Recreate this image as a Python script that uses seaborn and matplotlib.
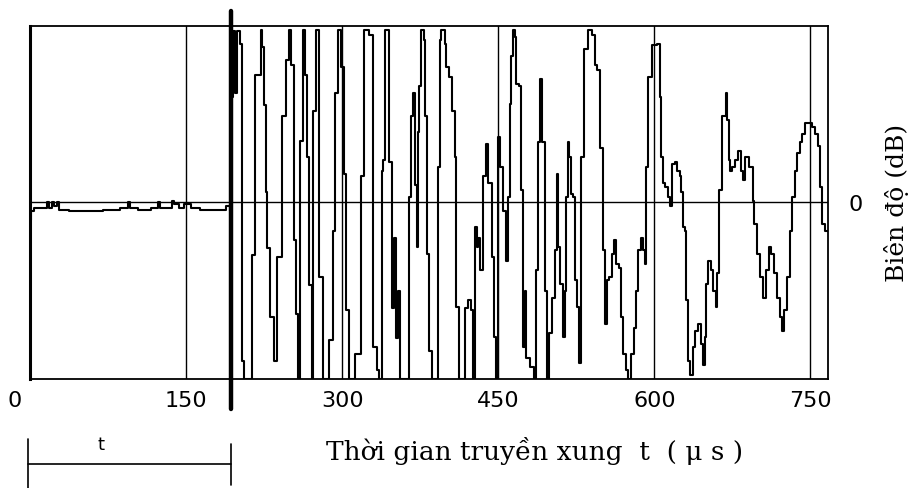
import numpy as np
import pandas as pd
import seaborn as sns
import matplotlib.pyplot as plt
import matplotlib.transforms as mtransforms

# -----------------------
# Data
# -----------------------
# noise before the echo, time in us, amplitude in % of full scale
noise_t = [0, 2, 5, 15, 18, 19, 21, 22, 24, 27, 29, 45, 60, 80, 93, 95, 97, 110,
           122, 124, 126, 135, 137, 139, 142, 145, 150, 153, 156, 170, 185, 192]
noise_amp = [-10, -5, -3, -3, 0, -3, -3, 0, -2, 0, -4, -5, -5, -4, -3, 0, -3, -4,
             -3, 0, -3, -3, 1, -1, -1, -3, -1, -1, -3, -4, -4, -2]

# echo train after the start pulse
echo_t = [193, 194, 195, 196, 198, 200, 201, 203, 205, 207, 211, 215, 217, 221, 222.7,
          223.5, 226, 227, 229, 233, 236, 239.4, 244, 247.4, 249.6,
          252.2, 254.7, 257, 258.6, 261.1, 263.4, 265, 266.6, 269.8, 271.4,
          273, 276.2, 279.4, 284.2, 290, 292.2, 294.4, 297, 300.8, 302.7, 305, 308.2,
          316.2, 319.4, 322.6, 328,
          332, 334, 337, 338.6, 340.2, 341.5, 344, 346.6, 349, 351, 353, 355, 357, 362,
          365.8, 367.4, 369, 371, 372.2, 373.5, 374.8, 377, 379.6, 380.2, 382.8, 385,
          387, 391, 393, 394.6, 396, 398, 399.4, 401, 404.2, 407.4, 409, 410.6, 413,
          417, 419, 422, 425, 426.6, 428.2, 430, 431.4, 434, 436.2, 439.4, 441, 443,
          444.2, 446.8, 449, 451.2, 453, 456, 458.6, 460.2, 461.8, 463.4, 465, 466.5,
          468.2, 471.4, 473, 475.2,
          476.2, 477.8, 482.6, 485.2, 487.4, 489, 490.6, 493.8, 495.4, 498, 500.2,
          503.4, 505.6, 506.6, 508.8, 510.8, 513, 514.6, 516.2, 517.2, 519.4, 521,
          523.6, 524.2, 526.8, 528, 530.6, 533.8, 538.6, 541.8, 543.4, 546.6, 549.8,
          551.4, 553.6, 554.6, 557.8, 560, 562.6, 564.2, 567.4, 569, 571.6, 573.8,
          576, 578.6, 581.8, 583.4, 585.6, 588.2, 589.8, 591.4, 593, 595.2, 601,
          604.2, 605.8, 607.4, 609, 612.2, 613.8, 616, 618.6,
          620.2, 623.4, 625, 626.6, 628.2, 629.8, 631.4, 633, 635.6, 637.8, 641,
          643.2, 645.8, 648.4, 649.6, 650.6, 652.8, 655.4, 658, 660.2, 661.2, 663.4,
          666.6, 668.2, 669.8, 670.8, 672, 674, 676.2, 679.4, 681.6, 684.2, 685.8,
          689, 693.8, 695.4, 697, 699.6, 702.8, 706, 708.2, 711.4, 713.6, 716.2,
          719.4, 722, 724.2, 725.8, 728.4, 731.6, 733.8, 736, 738.6, 741.2, 743.4,
          746.6, 749.8, 753, 756.2, 758.4, 760.4, 762.6, 765.8, 767]
echo_amp = [-5, 97, 60, 97, 62, 97, 97, 90, -90, -100, -100, -30, 72, 72, 98,
            88, 55, 6, -26, -65, -90, -31, 49, 81, 98,
            78, -21, -63, -100, 35, 98, 72, 26, -47, -100,
            52, 98, -42, -100, -78, -16, 62, 98, 77, 16, -61, -100,
            -86, 15, 98, 95,
            -82, -95, -100, 18, 24, 98, 98, 23, -60, -20, -77, -50, -100, -100,
            3, 49, 62, 10, -25, 40, 66, 98, 92, 49, -29, -84,
            -100, -100, 20, 92, 98, 98, 90, 77, 71, 52, 26, -59, -100,
            -100, -60, -55, -61, -100, -14, -25, -20, -38, 15, 33, 11, 11,
            -31, -76, -100, 37, 20, -5, -33, 3, 56, 83, 98, 94,
            67, 66, 7, -82,
            -50, -88, -93, -100, -38, 34, 70, 34, -50, -100, -74,
            -54, -27, 16, -25, -46, -76, -50, 3, 34, 26, 5,
            3, -44, -59, -91, 26, 87, 98, 95, 78, 75, 31,
            -27, -69, -44, -42, -29, -21, -35, -37, -65, -86, -95,
            -100, -86, -71, -50, -27, -20, -27, -35, 20, 71, 89,
            90, 60, 26, 11, 9, 3, -2, 22,
            23, 18, 15, 6, -14, -16, -55, -90, -98, -82, -73,
            -69, -80, -92, -76, -46, -33, -38, -50, -59, -40, 7,
            49, 49, 62, 47, 24, 18, 20, 24, 29, 18, 13,
            26, 20, 1, -12, -29, -42, -54, -38, -25, -29, -40,
            -54, -65, -73, -61, -42, -16, 3, 18, 28, 34, 39,
            45, 45, 43, 39, 32, 9, -12, -16, -16]

x_ticks = [0, 150, 300, 450, 600, 750]
pulse_t = 193  # start of the echo window (thick marker)

signal = pd.DataFrame({"t": noise_t + echo_t, "amp": noise_amp + echo_amp})

# -----------------------
# Setup
# -----------------------
sns.set_theme(style="white")
plt.rcParams["font.family"] = ["DejaVu Sans"]
plt.rcParams["text.color"] = "black"

fig = plt.figure(figsize=(9.13, 4.89), dpi=100)
ax = fig.add_axes([0.0329, 0.2229, 0.8741, 0.7219])

sns.lineplot(data=signal, x="t", y="amp", color="black", linewidth=1.5,
             sort=False, estimator=None, drawstyle="steps-mid", ax=ax)

ax.set_xlim(0, 767)
ax.set_ylim(-100, 100)

# grid lines at the tick positions and zero line
for xv in x_ticks[1:]:
    ax.axvline(xv, color="black", linewidth=1.0, zorder=1)
ax.axhline(0, color="black", linewidth=1.0, zorder=1)

# thick start marker, runs past the frame
ax.axvline(pulse_t, ymin=-0.085, ymax=1.042, color="black", linewidth=3.2,
           clip_on=False, zorder=5)

for side in ["top", "bottom", "left", "right"]:
    ax.spines[side].set_color("black")
    ax.spines[side].set_linewidth(1.3)
ax.spines["left"].set_linewidth(2.2)

ax.set_xticks(x_ticks)
ax.set_xticklabels([str(v) for v in x_ticks])
ax.tick_params(axis="x", length=0, pad=8, labelsize=16, colors="black")
# the "0" label sits a bit left of the origin
shift = mtransforms.ScaledTranslation(-15 / 100, 0, fig.dpi_scale_trans)
ax.get_xticklabels()[0].set_transform(ax.get_xticklabels()[0].get_transform() + shift)

ax.yaxis.tick_right()
ax.set_yticks([0])
ax.set_yticklabels(["0"])
ax.tick_params(axis="y", length=0, pad=15, labelsize=16, colors="black")

ax.set_xlabel("")
ax.set_ylabel("")

serif = ["DejaVu Serif"]
fig.text(0.982, 0.585, "Biên độ (dB)", rotation=90, ha="center", va="center",
         fontsize=18, family=serif, color="black")
fig.text(0.586, 0.077, "Thời gian truyền xung  t  ( μ s )", ha="center", va="center",
         fontsize=19, family=serif, color="black")

# bracket showing the time t
btr = mtransforms.blended_transform_factory(ax.transData, ax.transAxes)
ax.plot([-2, -2], [-0.17, -0.31], color="black", linewidth=1.2,
        transform=btr, clip_on=False)
ax.plot([-2, pulse_t], [-0.241, -0.241], color="black", linewidth=1.2,
        transform=btr, clip_on=False)
ax.plot([pulse_t, pulse_t], [-0.184, -0.300], color="black", linewidth=1.2,
        transform=btr, clip_on=False)
ax.text(68, -0.185, "t", transform=btr, ha="center", va="center", fontsize=13,
        color="black")

fig.savefig("out.png", dpi=100)
